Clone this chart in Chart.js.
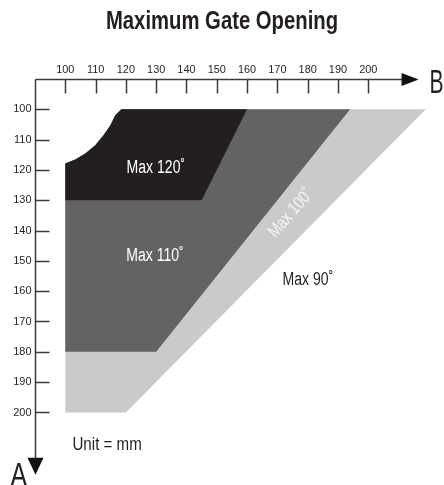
<!DOCTYPE html>
<html>
<head>
<meta charset="utf-8">
<script src="https://cdn.jsdelivr.net/npm/chart.js@4.4.1/dist/chart.umd.min.js"></script>
<style>
  html, body { margin: 0; padding: 0; background: #fff; }
  #wrap { width: 444px; height: 485px; position: relative; }
</style>
</head>
<body>
<div id="wrap"><canvas id="chart"></canvas></div>
<script>
// tick labels on the two axes (mm)
const ticksB = [100, 110, 120, 130, 140, 150, 160, 170, 180, 190, 200];
const ticksA = [100, 110, 120, 130, 140, 150, 160, 170, 180, 190, 200];

// rounded cut-out in the corner, [B, A] pairs
const cornerCurve = [[100, 117.9], [103.3, 116.6], [106.6, 114.6], [109.9, 111.9], [112.6, 108.6], [114.9, 105.3], [116.5, 102], [118.5, 100]];

// outer corners of each zone after the curve, [B, A]
const zone120 = [[160, 100], [145, 130], [100, 130]];
const zone110 = [[194, 100], [130, 180], [100, 180]];
const zone100 = [[219, 100], [120, 200], [100, 200]];

const zoneLabels = ['Max 120˚', 'Max 110˚', 'Max 100˚', 'Max 90˚'];
const zoneColors = ['#231f20', '#636365', '#c9cacc'];

const SANS = '"Liberation Sans", Arial, sans-serif';

function polygon(zone) {
  const pts = cornerCurve.concat(zone).map(p => ({ x: p[0], y: p[1] }));
  pts.push({ x: cornerCurve[0][0], y: cornerCurve[0][1] });
  return pts;
}

function zoneSet(zone, color) {
  return {
    data: polygon(zone),
    backgroundColor: color,
    borderColor: 'transparent',
    borderWidth: 0,
    pointRadius: 0,
    tension: 0,
    fill: 'shape'
  };
}

// condensed text: regular font squeezed horizontally
function text(ctx, str, x, y, opt) {
  ctx.save();
  ctx.translate(x, y);
  if (opt.rotate) ctx.rotate(opt.rotate);
  ctx.scale(opt.sx || 1, 1);
  ctx.font = opt.font;
  ctx.fillStyle = opt.color || '#231f20';
  ctx.textAlign = opt.align || 'center';
  ctx.textBaseline = opt.baseline || 'middle';
  ctx.fillText(str, 0, 0);
  ctx.restore();
}

// title, axes with arrows, tick marks and the free text
const gateAxes = {
  id: 'gateAxes',
  afterDraw(chart) {
    const { ctx, chartArea: a, scales: { x, y } } = chart;
    const top = Math.round(a.top) + 0.5;
    const left = Math.round(a.left) + 0.5;
    const bEnd = x.getPixelForValue(211);
    const aEnd = y.getPixelForValue(215);

    text(ctx, 'Maximum Gate Opening', 222, 22, { font: 'bold 26px ' + SANS, sx: 0.78 });

    ctx.save();
    ctx.strokeStyle = '#3b3b3b';
    ctx.lineWidth = 1.5;
    ctx.beginPath();
    ctx.moveTo(left, top);
    ctx.lineTo(bEnd + 2, top);
    ctx.moveTo(left, top);
    ctx.lineTo(left, aEnd + 2);
    ctx.stroke();

    // arrow heads
    ctx.fillStyle = '#111';
    ctx.beginPath();
    ctx.moveTo(bEnd, top - 6.5);
    ctx.lineTo(bEnd + 17, top);
    ctx.lineTo(bEnd, top + 6.5);
    ctx.closePath();
    ctx.fill();
    ctx.beginPath();
    ctx.moveTo(left - 8, aEnd);
    ctx.lineTo(left, aEnd + 17);
    ctx.lineTo(left + 8, aEnd);
    ctx.closePath();
    ctx.fill();

    // tick marks
    ctx.beginPath();
    ticksB.forEach(v => {
      const px = Math.round(x.getPixelForValue(v)) + 0.5;
      ctx.moveTo(px, top);
      ctx.lineTo(px, top + 14);
    });
    ticksA.forEach(v => {
      const py = Math.round(y.getPixelForValue(v)) + 0.5;
      ctx.moveTo(left, py);
      ctx.lineTo(left + 14, py);
    });
    ctx.stroke();
    ctx.restore();

    ticksB.forEach(v => text(ctx, String(v), x.getPixelForValue(v), top - 10, { font: '11.5px ' + SANS, sx: 0.95 }));
    ticksA.forEach(v => text(ctx, String(v), left - 4, y.getPixelForValue(v), { font: '11.5px ' + SANS, sx: 0.95, align: 'right' }));

    text(ctx, 'B', bEnd + 28, top + 13, { font: '34px ' + SANS, sx: 0.62, align: 'left', baseline: 'alphabetic' });
    text(ctx, 'A', left - 25, aEnd + 28, { font: '33px ' + SANS, sx: 0.75, align: 'left', baseline: 'alphabetic' });

    const at = (b, v) => [x.getPixelForValue(b), y.getPixelForValue(v)];
    const lab = { font: '18px ' + SANS, sx: 0.78 };
    let p = at(129.9, 119.4);
    text(ctx, zoneLabels[0], p[0], p[1], { ...lab, color: '#fff' });
    p = at(129.6, 148.4);
    text(ctx, zoneLabels[1], p[0], p[1], { ...lab, color: '#fff' });
    p = at(174.5, 134.2);
    text(ctx, zoneLabels[2], p[0], p[1], { ...lab, color: '#f4f4f4', rotate: -0.85 });
    p = at(180.1, 156.3);
    text(ctx, zoneLabels[3], p[0], p[1], lab);
    p = at(113.8, 210.8);
    text(ctx, 'Unit = mm', p[0], p[1], { font: '18px ' + SANS, sx: 0.84 });
  }
};

new Chart(document.getElementById('chart'), {
  type: 'line',
  data: {
    datasets: [
      zoneSet(zone120, zoneColors[0]),
      zoneSet(zone110, zoneColors[1]),
      zoneSet(zone100, zoneColors[2])
    ]
  },
  options: {
    responsive: true,
    maintainAspectRatio: false,
    animation: false,
    layout: { padding: { left: 35, right: 0, top: 79, bottom: 12 } },
    scales: {
      x: { type: 'linear', min: 90, max: 225, display: false },
      y: { type: 'linear', min: 90, max: 220, reverse: true, display: false }
    },
    plugins: {
      legend: { display: false },
      tooltip: { enabled: false },
      title: { display: false }
    }
  },
  plugins: [gateAxes]
});
</script>
</body>
</html>
